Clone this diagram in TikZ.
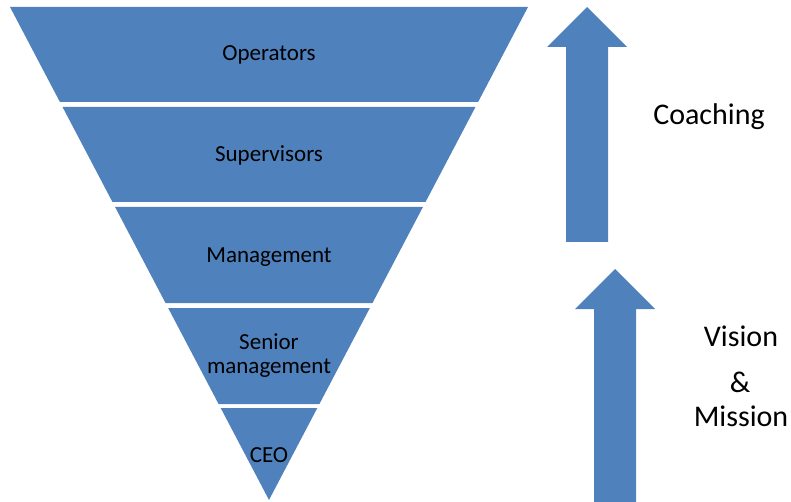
\documentclass[tikz,border=0pt]{standalone}
\usepackage{fontspec}
\setmainfont{Carlito}
\definecolor{pyrblue}{HTML}{4F81BD}
\begin{document}
\begin{tikzpicture}[x=1pt, y=-1pt]
\useasboundingbox (0, 0) rectangle (791, 502);
\foreach \t/\b/\y/\a/\n/\l in {7/102/61/base/op/Operators, 107/202/162/base/sup/Supervisors,
  207/303/262/base/man/Management, 308/404/356/center/sen/{Senior\\management},
  408/500/462/base/ceo/CEO}
  {\fill[pyrblue] ({10+(\t-7)*0.5254}, \t) -- ({528-(\t-7)*0.5254}, \t)
     -- ({528-(\b-7)*0.5254}, \b) -- ({10+(\b-7)*0.5254}, \b) -- cycle;
   \node[align=center, anchor=\a, font=\fontsize{23}{24}\selectfont] (\n) at (269, \y) {\l};};
\foreach \x/\t/\b in {587/7/242, 615/269/505}
  \fill[pyrblue] (\x, \t) -- ({\x+40}, {\t+40}) -- ({\x+21}, {\t+40}) -- ({\x+21}, \b)
     -- ({\x-21}, \b) -- ({\x-21}, {\t+40}) -- ({\x-40}, {\t+40}) -- cycle;
\foreach \x/\y/\n/\l in {709/125/coach/Coaching, 741/346/vis/Vision, 740/392/amp/\&,
  741/426/mis/Mission}
  \node[anchor=base, font=\fontsize{30}{36}\selectfont] (\n) at (\x, \y) {\l};
\end{tikzpicture}
\end{document}
